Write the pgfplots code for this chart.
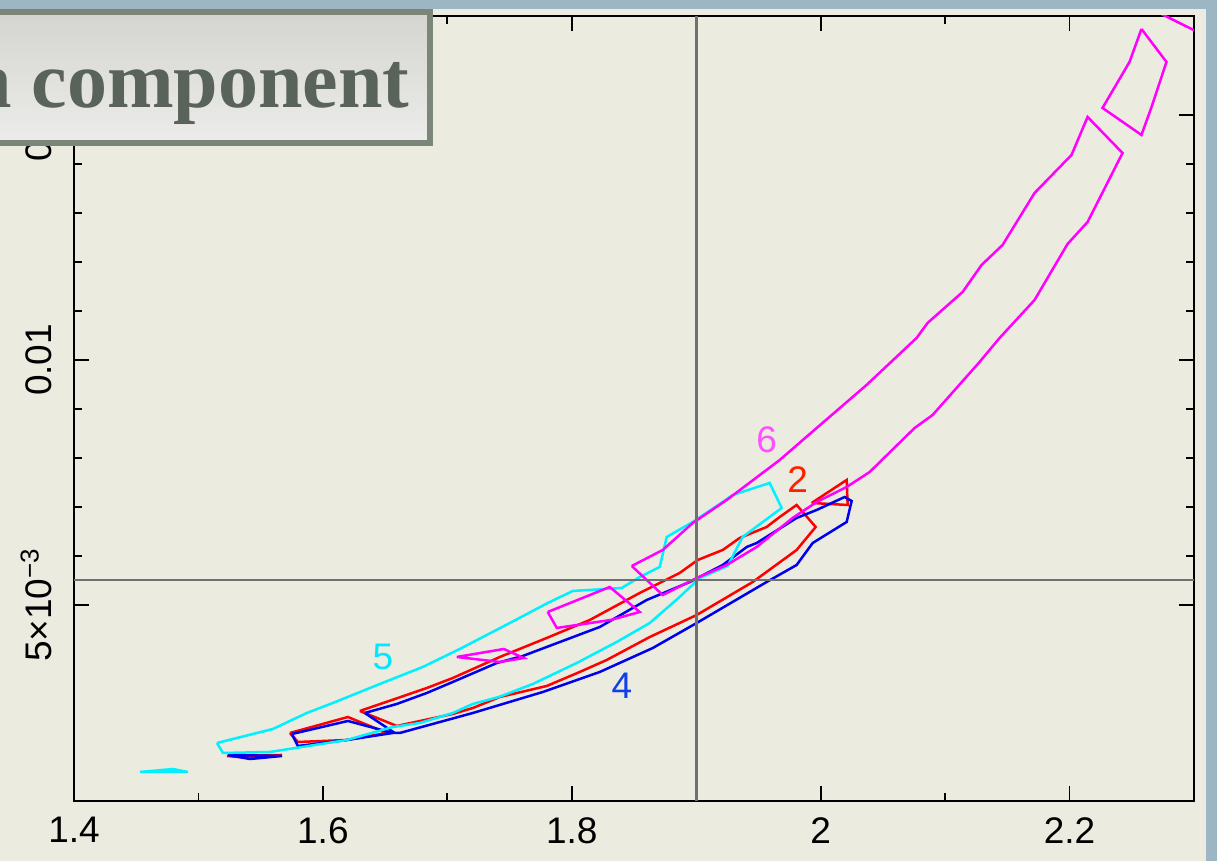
\documentclass[border=0pt]{standalone}
\usepackage{fontspec}
\setmainfont{Liberation Sans}
\newfontfamily\titlefont{Liberation Serif}
\usepackage{pgfplots}
\pgfplotsset{compat=1.18}
\definecolor{paper}{HTML}{ECEBE0}
\definecolor{framebg}{HTML}{9DB6C3}
\definecolor{titleborder}{HTML}{7B857A}
\definecolor{titletext}{HTML}{59635A}
\definecolor{titletop}{HTML}{D4D4D0}
\definecolor{titlebot}{HTML}{ECECEA}
\definecolor{reflines}{HTML}{707070}
\definecolor{cmag}{HTML}{FF00FF}
\definecolor{ccyan}{HTML}{00F0FF}
\definecolor{cred}{HTML}{FF0000}
\definecolor{cblue}{HTML}{0000F0}
\definecolor{lmag}{HTML}{FF50FF}
\definecolor{lred}{HTML}{FF2000}
\definecolor{lcyan}{HTML}{00E8FF}
\definecolor{lblue}{HTML}{1040E8}
\begin{document}
\begin{tikzpicture}[x=1pt,y=1pt]
\useasboundingbox (0,0) rectangle (608.5,430.5);
\clip (0,0) rectangle (608.5,430.5);
\fill[framebg] (0,0) rectangle (608.5,430.5);
\fill[paper] (0,0) rectangle (603,426);
\begin{axis}[
  at={(37pt,30pt)}, anchor=south west,
  scale only axis, width=560pt, height=392.5pt,
  xmin=1.4, xmax=2.3, ymin=1, ymax=17.02,
  axis line style={black, line width=1pt},
  tick style={black, line width=0.9pt},
  tick align=inside,
  major tick length=7.5pt, minor tick length=4pt,
  xtick={1.4,1.6,1.8,2.0,2.2},
  xticklabels={1.4,1.6,1.8,2,2.2},
  minor x tick num=1,
  ytick={5,10,15},
  yticklabels={5×10\textsuperscript{−3},0.01,0.015},
  minor y tick num=4,
  xticklabel style={font=\fontsize{18.5}{22}\selectfont, inner sep=0pt, anchor=north},
  xticklabel shift=8pt,
  yticklabel style={font=\fontsize{18.5}{22}\selectfont, inner sep=0pt, rotate=90, anchor=south},
  yticklabel shift=11pt,
  every axis plot/.append style={line width=1.25pt, line join=miter},
]
% ---- level 2 (red)
\addplot[cred] coordinates {
(1.6297,2.837) (1.6602,3.102) (1.6835,3.306) (1.7044,3.510) (1.7422,3.939)
(1.7799,4.327) (1.8145,4.694) (1.8546,5.245) (1.8867,5.653) (1.9012,5.918)
(1.9213,6.122) (1.9349,6.367) (1.9566,6.592) (1.9671,6.796) (1.9807,7.041)
(1.9960,6.592) (1.9807,6.122) (1.9454,5.469) (1.9004,4.796) (1.8627,4.347)
(1.8281,3.878) (1.8064,3.633) (1.7799,3.347) (1.7422,3.122) (1.7205,2.898)
(1.7044,2.776) (1.6594,2.531) (1.6297,2.837)};
\addplot[cred] coordinates {
(1.5735,2.388) (1.6201,2.714) (1.6514,2.388) (1.6193,2.245) (1.5799,2.204) (1.5735,2.388)};
\addplot[cred] coordinates {
(1.5229,1.918) (1.5414,1.878) (1.5671,1.939) (1.5229,1.918)};
\addplot[cred] coordinates {
(1.9928,7.082) (2.0209,7.551) (2.0217,7.041) (1.9928,7.082)};
% ---- level 4 (blue)
\addplot[cblue] coordinates {
(1.6337,2.796) (1.6594,2.980) (1.6835,3.204) (1.7044,3.429) (1.7398,3.816)
(1.7606,3.959) (1.8225,4.551) (1.8602,5.102) (1.8948,5.469) (1.9213,5.816)
(1.9406,6.184) (1.9486,6.265) (1.9807,6.776) (1.9968,6.939) (2.0193,7.204)
(2.0249,7.122) (2.0209,6.694) (1.9936,6.265) (1.9807,5.816) (1.9566,5.469)
(1.9004,4.633) (1.8651,4.122) (1.8225,3.633) (1.7767,3.224) (1.7205,2.796)
(1.6618,2.388) (1.6578,2.388) (1.6337,2.796)};
\addplot[cblue] coordinates {
(1.5751,2.367) (1.6201,2.633) (1.6562,2.388) (1.6193,2.245) (1.5799,2.122) (1.5751,2.367)};
\addplot[cblue] coordinates {
(1.5237,1.939) (1.5671,1.918) (1.5414,1.857) (1.5237,1.939)};
% ---- level 5 (cyan)
\addplot[ccyan] coordinates {
(1.5149,2.184) (1.5598,2.469) (1.5871,2.796) (1.6080,3.000) (1.6458,3.388)
(1.6803,3.735) (1.7100,4.102) (1.7518,4.653) (1.7807,5.041) (1.8008,5.286)
(1.8402,5.347) (1.8546,5.571) (1.8707,5.776) (1.8763,6.388) (1.8972,6.694)
(1.9213,7.102) (1.9293,7.245) (1.9590,7.490) (1.9687,6.980) (1.9373,6.388)
(1.9253,5.796) (1.9028,5.551) (1.8867,5.163) (1.8627,4.633) (1.8361,4.245)
(1.8040,3.816) (1.7687,3.388) (1.7414,3.122) (1.7205,2.980) (1.7044,2.796)
(1.6779,2.592) (1.6562,2.510) (1.6193,2.245) (1.5574,2.000) (1.5197,1.980)
(1.5149,2.184)};
\addplot[ccyan] coordinates {
(1.4530,1.592) (1.4795,1.653) (1.4916,1.592) (1.4530,1.592)};
% ---- level 6 (magenta)
\addplot[cmag] coordinates {
(1.8482,5.796) (1.8731,6.122) (1.8972,6.673) (1.9245,7.143) (1.9671,7.959)
(1.9968,8.612) (2.0369,9.490) (2.0771,10.449) (2.0859,10.755) (2.1141,11.388)
(2.1293,11.939) (2.1462,12.347) (2.1719,13.408) (2.2016,14.184) (2.2145,14.959)
(2.2426,14.224) (2.2145,12.816) (2.1984,12.367) (2.1719,11.224) (2.1438,10.449)
(2.1277,9.959) (2.0900,8.878) (2.0755,8.612) (2.0394,7.714) (2.0209,7.408)
(1.9968,7.102) (1.9775,6.776) (1.9486,6.184) (1.9245,5.816) (1.9004,5.551)
(1.8731,5.204) (1.8482,5.796)};
\addplot[cmag] coordinates {
(2.2578,16.755) (2.2779,16.082) (2.2659,15.163) (2.2578,14.592) (2.2265,15.143)
(2.2482,16.082) (2.2578,16.755)};
\addplot[cmag] coordinates {(2.2723,17.08) (2.2996,16.735) (2.3044,16.673)};
\addplot[cmag] coordinates {
(1.7807,4.857) (1.8305,5.367) (1.8546,4.857) (1.8313,4.694) (1.7880,4.531) (1.7807,4.857)};
\addplot[cmag] coordinates {
(1.7076,3.939) (1.7454,4.102) (1.7614,3.918) (1.7422,3.837) (1.7076,3.939)};
% ---- reference lines
\addplot[reflines, line width=1.3pt] coordinates {(1.9,1) (1.9,17.02)};
\addplot[reflines, line width=1.3pt] coordinates {(1.4,5.51) (2.3,5.51)};
% ---- contour labels
\node[text=lmag, font=\fontsize{18.5}{22}\selectfont] at (axis cs:1.9566,8.367) {6};
\node[text=lred, font=\fontsize{18.5}{22}\selectfont] at (axis cs:1.9815,7.551) {2};
\node[text=lcyan, font=\fontsize{18.5}{22}\selectfont] at (axis cs:1.6482,3.939) {5};
\node[text=lblue, font=\fontsize{18.5}{22}\selectfont] at (axis cs:1.8402,3.347) {4};
\end{axis}
% ---- title box
\draw[draw=titleborder, line width=3pt, top color=titletop, bottom color=titlebot]
  (-10,359) rectangle (215,424.5);
\node[anchor=base east, inner sep=0pt, text=titletext,
      font=\titlefont\bfseries\fontsize{40}{44}\selectfont] at (205,376.5) {n component};
\end{tikzpicture}
\end{document}
